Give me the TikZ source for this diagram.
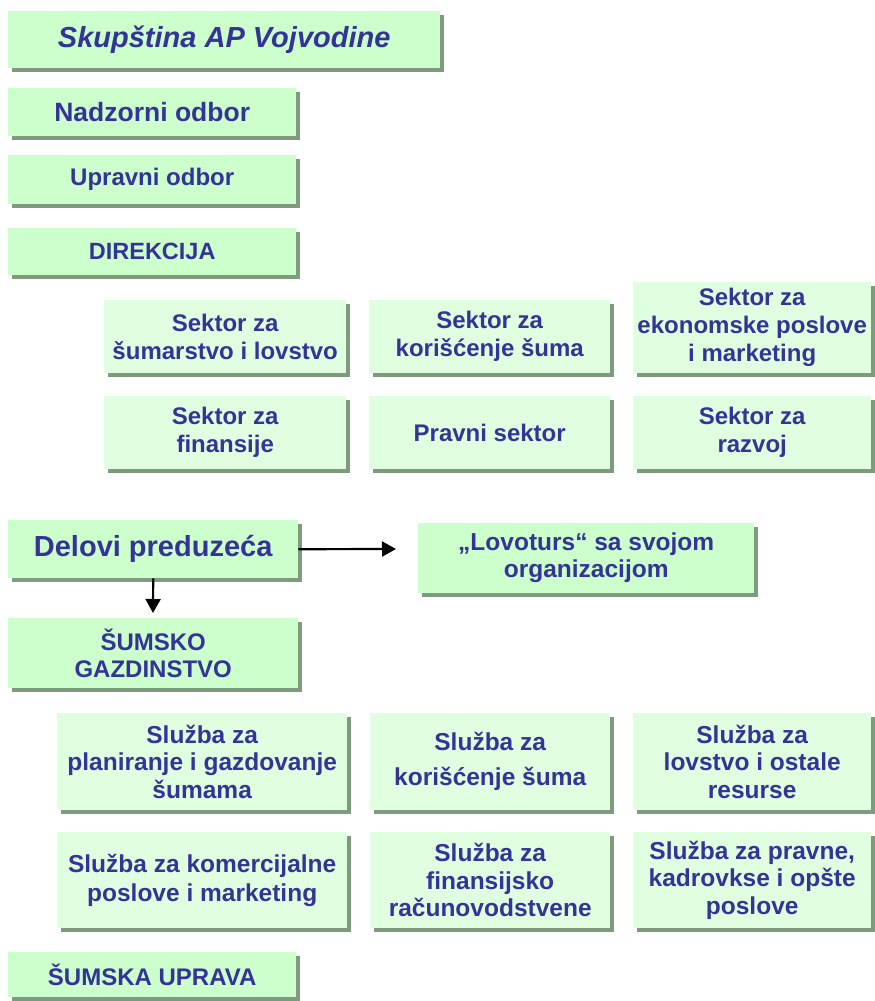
\documentclass[tikz,border=0pt]{standalone}
\usepackage{fontspec}
\setmainfont{Liberation Sans}
\usepackage[HTML]{xcolor}
\usetikzlibrary{positioning, arrows.meta, shadows}
\definecolor{boxgreen}{HTML}{CCFFCC}
\definecolor{palegreen}{HTML}{E0FFE0}
\definecolor{shadowgreen}{HTML}{7F9A7F}
\definecolor{textblue}{HTML}{333399}

\begin{document}
\begin{tikzpicture}[
    x=1pt, y=-1pt, % one unit = one pixel of the chart, y runs down
    box/.style={fill=boxgreen, anchor=north west, align=center, text=textblue, inner sep=0pt,
        drop shadow={fill=shadowgreen, opacity=1, shadow xshift=4pt, shadow yshift=-4pt}},
    pale/.style={box, fill=palegreen},
    fsize/.style 2 args={font=\bfseries\fontsize{#1}{#2}\selectfont},
    arrow/.style={-{Triangle[length=14pt, width=15pt]}, line width=2.2pt}
]
    \useasboundingbox (0,0) rectangle (875,1001);

    % 1. Top of the hierarchy
    \node[box, font=\bfseries\itshape\fontsize{29}{33}\selectfont,
        minimum width=432, minimum height=57] (skup) at (8,11) {Skupština AP Vojvodine};
    \node[box, fsize={26.5}{30}, minimum width=288, minimum height=48] (nadzor) at (8,88) {Nadzorni odbor};
    \node[box, fsize={24}{28}, minimum width=288, minimum height=49] (upravni) at (8,155) {Upravni odbor};
    \node[box, fsize={23.5}{27}, minimum width=288, minimum height=47] (direk) at (8,228) {DIREKCIJA};

    % 2. Sectors of the directorate
    \node[pale, fsize={24}{28}, minimum width=242, minimum height=73] (sumar) at (104,300) {Sektor za\\šumarstvo i lovstvo};
    \node[pale, fsize={24}{28}, minimum width=241, minimum height=73] (koris) at (369,300) {Sektor za\\korišćenje šuma};
    \node[pale, fsize={24}{28}, minimum width=238, minimum height=91] (ekon) at (633,282) {Sektor za\\ekonomske poslove\\i marketing};
    \node[pale, fsize={24}{28}, minimum width=242, minimum height=73] (finan) at (104,396) {Sektor za\\finansije};
    \node[pale, fsize={24}{28}, minimum width=241, minimum height=73] (pravni) at (369,396) {Pravni sektor};
    \node[pale, fsize={24}{28}, minimum width=238, minimum height=73] (razvoj) at (633,396) {Sektor za\\razvoj};

    % 3. Parts of the company
    \node[box, fsize={29}{33}, minimum width=290, minimum height=58] (delovi) at (8,520) {Delovi preduzeća};
    \node[box, fsize={24.5}{27}, minimum width=336, minimum height=70] (lovo) at (418,523) {„Lovoturs“ sa svojom\\organizacijom};
    \node[box, fsize={24}{27}, minimum width=290, minimum height=70] (gazd) at (8,618) {ŠUMSKO\\GAZDINSTVO};

    % 4. Services of the forest estate
    \node[pale, fsize={24.5}{27.5}, minimum width=290, minimum height=97] (plan) at (57,713) {Služba za\\planiranje i gazdovanje\\šumama};
    \node[pale, fsize={24.5}{35}, minimum width=240, minimum height=97] (korsl) at (370,713) {Služba za\\korišćenje šuma};
    \node[pale, fsize={24.5}{27.5}, minimum width=238, minimum height=97] (lovsl) at (633,713) {Služba za\\lovstvo i ostale\\resurse};
    \node[pale, fsize={24.5}{29}, minimum width=290, minimum height=96] (komer) at (57,832) {Služba za komercijalne\\poslove i marketing};
    \node[pale, fsize={24.5}{27.5}, minimum width=240, minimum height=96] (racun) at (370,832) {Služba za\\finansijsko\\računovodstvene};
    \node[pale, fsize={24.5}{27.5}, minimum width=238, minimum height=96] (kadr) at (633,832) {Služba za pravne,\\kadrovkse i opšte\\poslove};

    \node[box, fsize={24}{28}, minimum width=288, minimum height=45] (uprava) at (8,952) {ŠUMSKA UPRAVA};

    % 5. Arrows
    \coordinate (lovtip) at (396,549);
    \coordinate (gazdtip) at (153,613);
    \draw[arrow] (delovi.east) -- (lovtip);
    \draw[arrow] (delovi.south) -- (gazdtip);
\end{tikzpicture}
\end{document}
